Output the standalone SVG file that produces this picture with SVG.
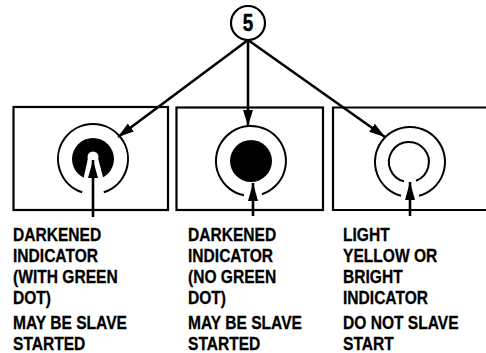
<svg xmlns="http://www.w3.org/2000/svg" width="486" height="353" viewBox="0 0 486 353">
<style>
.box{fill:none;stroke:#000;stroke-width:2.2}
.ring{fill:none;stroke:#000;stroke-width:2}
.ln{fill:none;stroke:#000;stroke-width:2.6}
.lbl{font-family:"Liberation Sans",Arial,sans-serif;font-weight:bold;font-size:19px;fill:#000;stroke:#000;stroke-width:0.3}
.num{font-family:"Liberation Sans",Arial,sans-serif;font-weight:bold;font-size:23px;fill:#000;stroke:#000;stroke-width:0.5}
</style>
<defs>
<marker id="ah" markerUnits="userSpaceOnUse" markerWidth="18" markerHeight="12" refX="16" refY="5.5" orient="auto">
<path d="M0,0.5 L16,5.5 L0,10.5 z" fill="#000"/>
</marker>
<marker id="ah2" markerUnits="userSpaceOnUse" markerWidth="20" markerHeight="12" refX="18" refY="5.5" orient="auto">
<path d="M0,0.5 L18,5.5 L0,10.5 z" fill="#000"/>
</marker>
</defs>
<rect width="486" height="353" fill="#fff"/>

<g id="callout5">
<circle cx="248" cy="23" r="17" fill="#fff" stroke="#000" stroke-width="2.2"/>
<text class="num" x="248" y="31.5" text-anchor="middle" transform="translate(248,0) scale(0.82,1) translate(-248,0)">5</text>
</g>

<g id="panel1">
<rect class="box" x="13.5" y="107" width="154.5" height="103"/>
<path class="ring" d="M82.2,192.3 A35,35 0 1 1 103.8,192.3"/>
<circle cx="93" cy="159" r="21" fill="#000"/>
<circle cx="93" cy="157" r="5.5" fill="#fff"/>
<path d="M88,158 L98,158 L104,181 L83,181 z" fill="#fff"/>
<g transform="translate(13,0) scale(0.82,1)">
<text class="lbl" x="0" y="241">DARKENED</text>
<text class="lbl" x="0" y="262">INDICATOR</text>
<text class="lbl" x="0" y="283">(WITH GREEN</text>
<text class="lbl" x="0" y="304">DOT)</text>
<text class="lbl" x="0" y="329">MAY BE SLAVE</text>
<text class="lbl" x="0" y="350">STARTED</text>
</g>
</g>

<g id="panel2">
<rect class="box" x="176.5" y="107.5" width="146.5" height="102.5"/>
<path class="ring" d="M244,195.3 A35,35 0 1 1 262,194.2"/>
<circle cx="251" cy="161" r="21" fill="#000"/>
<g transform="translate(188,0) scale(0.82,1)">
<text class="lbl" x="0" y="241">DARKENED</text>
<text class="lbl" x="0" y="262">INDICATOR</text>
<text class="lbl" x="0" y="283">(NO GREEN</text>
<text class="lbl" x="0" y="304">DOT)</text>
<text class="lbl" x="0" y="329">MAY BE SLAVE</text>
<text class="lbl" x="0" y="350">STARTED</text>
</g>
</g>

<g id="panel3">
<path class="box" d="M488,107.5 H333 V210 H488"/>
<path class="ring" d="M401,195.8 A35,35 0 1 1 419,195.8"/>
<path class="ring" d="M404,181.4 A20,20 0 1 1 416,180.7"/>
<g transform="translate(343,0) scale(0.82,1)">
<text class="lbl" x="0" y="241">LIGHT</text>
<text class="lbl" x="0" y="262">YELLOW OR</text>
<text class="lbl" x="0" y="283">BRIGHT</text>
<text class="lbl" x="0" y="304">INDICATOR</text>
<text class="lbl" x="0" y="329">DO NOT SLAVE</text>
<text class="lbl" x="0" y="350">START</text>
</g>
</g>

<g id="connectors">
<path class="ln" d="M248,40 L118,137" marker-end="url(#ah)"/>
<path class="ln" d="M248,40 L248,126" marker-end="url(#ah)"/>
<path class="ln" d="M248,40 L385,137" marker-end="url(#ah)"/>
<path class="ln" d="M93,217 L93,160" marker-end="url(#ah2)"/>
<path class="ln" d="M253,216 L253,183" marker-end="url(#ah2)"/>
<path class="ln" d="M410,216 L410,182" marker-end="url(#ah2)"/>
</g>
</svg>
